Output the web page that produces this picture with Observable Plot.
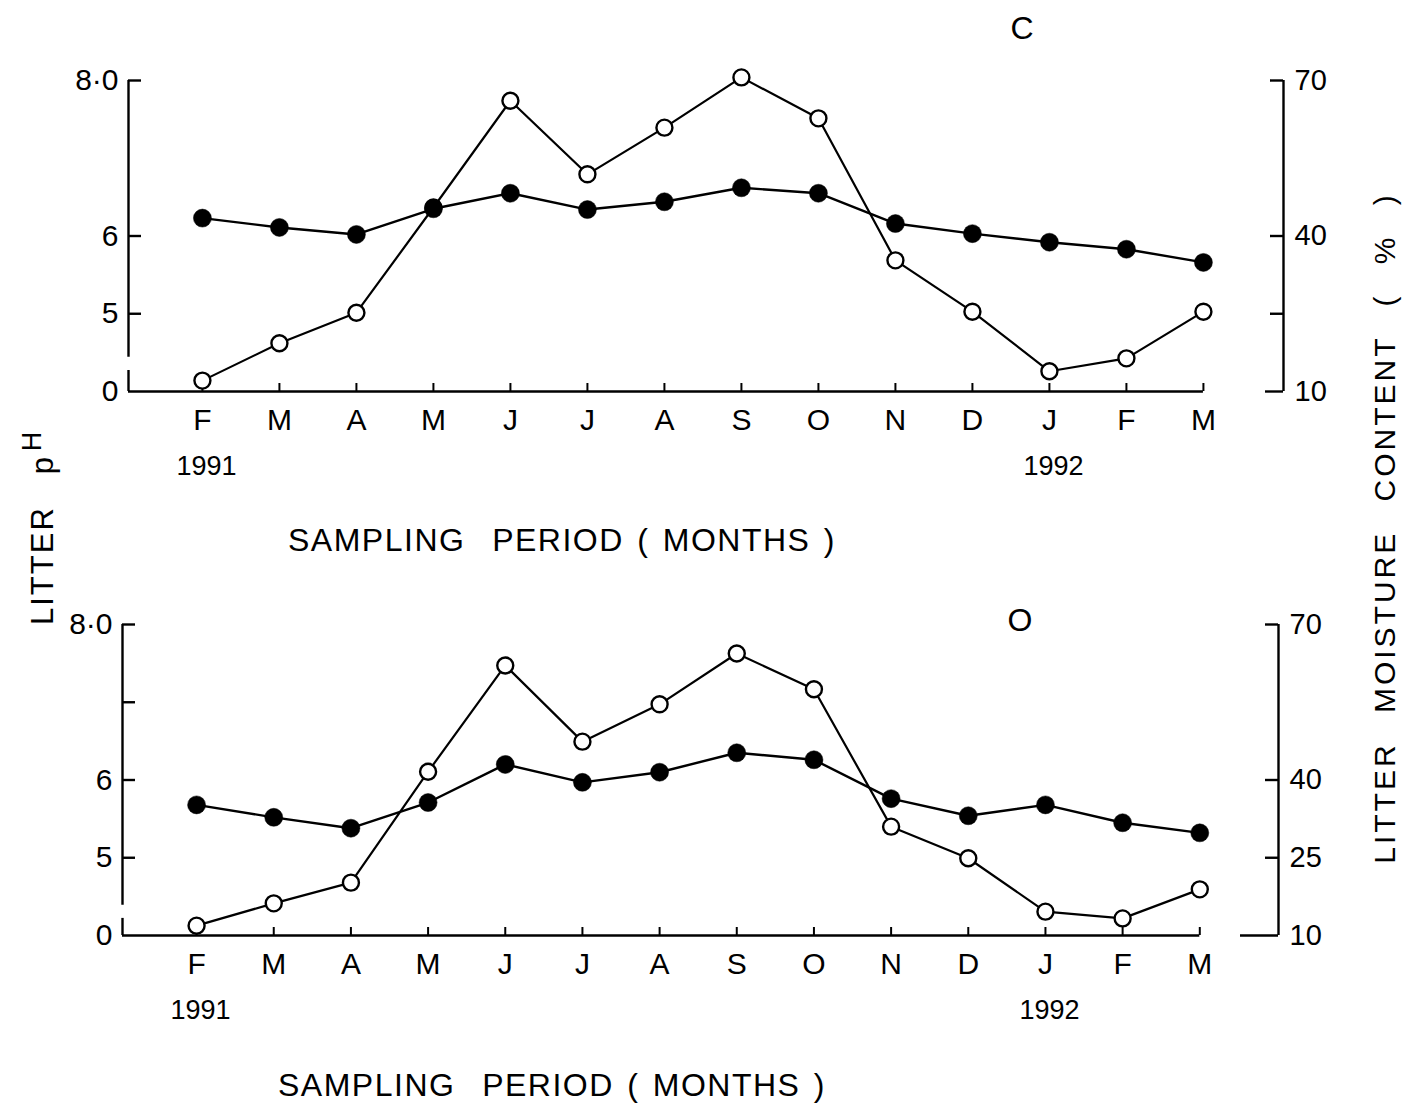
<!DOCTYPE html>
<html><head><meta charset="utf-8">
<script src="https://cdn.jsdelivr.net/npm/d3@7"></script>
<script src="https://cdn.jsdelivr.net/npm/@observablehq/plot@0.6"></script>
<style>
body{margin:0;background:#fff;}
#wrap{position:relative;width:1417px;height:1106px;background:#fff;font-family:"Liberation Sans",Arial,sans-serif;color:#000;overflow:hidden}
.abs{position:absolute;white-space:nowrap;line-height:1;}
.panel{position:absolute;left:0;}
</style></head><body><div id="wrap"></div>
<script>
// Sampling months (Feb 1991 – Mar 1992)
const months = ["F","M","A","M","J","J","A","S","O","N","D","J","F","M"];
const years = ["1991", "1992"];
const yearIndex = [0, 11];

// Panel C
const phC    = [6.23, 6.11, 6.02, 6.35, 6.55, 6.34, 6.44, 6.62, 6.55, 6.16, 6.03, 5.92, 5.83, 5.66];
const moistC = [12.1, 19.3, 25.2, 45.5, 66.1, 51.9, 60.9, 70.6, 62.7, 35.3, 25.4, 13.9, 16.4, 25.4];
// Panel O
const phO    = [5.68, 5.52, 5.38, 5.71, 6.20, 5.97, 6.10, 6.35, 6.26, 5.76, 5.54, 5.68, 5.45, 5.32];
const moistO = [11.9, 16.2, 20.2, 41.6, 62.1, 47.4, 54.6, 64.4, 57.5, 31.0, 24.9, 14.6, 13.3, 18.9];

// Axis ticks (left axis is broken: "0" sits at the pH 4 position)
const leftTickValuesC = [5, 6, 8];
const leftTickValuesO = [5, 6, 7, 8];
const leftLabelValues = [4, 5, 6, 8];
const leftLabelText   = ["0", "5", "6", "8·0"];
const rightTickValues = [25, 40, 70];
const rightLabelsC = [10, 40, 70];
const rightLabelsO = [10, 25, 40, 70];

const phDomain = [4, 8];
const moistDomain = [10, 70];
const toY = d3.scaleLinear(moistDomain, phDomain);

const W = 1417, H = 500;

function panel(o) {
  const frameW = W - o.marginLeft - o.marginRight;
  const frameH = H - o.marginTop - o.marginBottom;
  const idx = d3.range(months.length);
  const sw = 2.4;
  return Plot.plot({
    width: W, height: H,
    marginLeft: o.marginLeft, marginRight: o.marginRight,
    marginTop: o.marginTop, marginBottom: o.marginBottom,
    x: {type: "linear", domain: o.xDomain, axis: null},
    y: {domain: phDomain, axis: null},
    style: {fontFamily: '"Liberation Sans", Arial, sans-serif', background: "white", overflow: "visible", color: "black"},
    marks: [
      Plot.ruleX([o.xDomain[0]], {y1: o.breakTop, y2: phDomain[1], strokeWidth: sw}),
      Plot.ruleX([o.xDomain[0]], {y1: phDomain[0], y2: o.breakBottom, strokeWidth: sw}),
      Plot.ruleX([o.xDomain[1]], {y1: phDomain[0], y2: phDomain[1], strokeWidth: sw}),
      Plot.ruleY([phDomain[0]], {x1: o.xDomain[0], x2: months.length - 1, strokeWidth: sw}),
      Plot.tickX(idx, {x: d => d, insetTop: frameH - 8, strokeWidth: 2}),
      Plot.tickY(o.leftTicks, {y: d => d, insetRight: frameW - 13, strokeWidth: sw}),
      Plot.text(leftLabelValues, {y: d => d, text: (d, i) => leftLabelText[i], frameAnchor: "left", textAnchor: "end", dx: -10, fontSize: 30}),
      Plot.tickY(rightTickValues, {y: d => toY(d), insetLeft: frameW - 13, strokeWidth: sw}),
      Plot.tickY([moistDomain[0]], {y: d => toY(d), insetLeft: frameW - o.tenTick, strokeWidth: sw}),
      Plot.text(o.rightLabels, {y: d => toY(d), text: d => String(d), frameAnchor: "right", textAnchor: "start", dx: 11, fontSize: 29}),
      Plot.axisX(idx, {tickFormat: i => months[i], tickSize: 0, tickPadding: 17, fontSize: 30, label: null}),
      Plot.text(years, {x: (d, i) => yearIndex[i], text: d => d, frameAnchor: "bottom", dy: 83, dx: 4, fontSize: 27}),
      Plot.line(o.moist, {x: (d, i) => i, y: d => toY(d), strokeWidth: 2.2}),
      Plot.line(o.ph, {x: (d, i) => i, y: d => d, strokeWidth: 2.4}),
      Plot.dot(o.moist, {x: (d, i) => i, y: d => toY(d), r: 8, fill: "white", stroke: "black", strokeWidth: 2.4}),
      Plot.dot(o.ph, {x: (d, i) => i, y: d => d, r: 9, fill: "black", stroke: "black", strokeWidth: 0.5})
    ]
  });
}

const wrap = document.getElementById("wrap");

const topPanel = panel({
  ph: phC, moist: moistC,
  marginLeft: 128, marginRight: W - 1283, marginTop: 80, marginBottom: H - 391,
  xDomain: [-0.96, 14.04],
  leftTicks: leftTickValuesC, rightLabels: rightLabelsC,
  breakTop: 4.44, breakBottom: 4.27, tenTick: 18
});
topPanel.classList.add("panel"); topPanel.style.top = "0px";
wrap.appendChild(topPanel);

const botPanel = panel({
  ph: phO, moist: moistO,
  marginLeft: 122, marginRight: W - 1278, marginTop: 79, marginBottom: H - 390,
  xDomain: [-0.96, 14.02],
  leftTicks: leftTickValuesO, rightLabels: rightLabelsO,
  breakTop: 4.39, breakBottom: 4.22, tenTick: 38
});
botPanel.classList.add("panel"); botPanel.style.top = "545px";
wrap.appendChild(botPanel);

function addText(html, css) {
  const d = document.createElement("div");
  d.className = "abs";
  d.innerHTML = html;
  Object.assign(d.style, css);
  wrap.appendChild(d);
  return d;
}
addText("C", {left: "1022px", top: "28px", fontSize: "32px", transform: "translate(-50%,-50%)"});
addText("O", {left: "1020px", top: "620px", fontSize: "32px", transform: "translate(-50%,-50%)"});
const xTitle = "SAMPLING&nbsp; PERIOD ( MONTHS )";
addText(xTitle, {left: "288px", top: "540px", fontSize: "32px", letterSpacing: "1.5px", wordSpacing: "3px", transform: "translate(0,-50%)"});
addText(xTitle, {left: "278px", top: "1085px", fontSize: "32px", letterSpacing: "1.5px", wordSpacing: "3px", transform: "translate(0,-50%)"});
addText("LITTER&nbsp;&nbsp; p<sup style='font-size:27px;vertical-align:12px;margin-left:4px'>H</sup>",
  {left: "38px", top: "625px", fontSize: "31px", letterSpacing: "2px", transformOrigin: "0 0", transform: "rotate(-90deg) translate(0,-50%)"});
addText("LITTER MOISTURE CONTENT ( % )", {left: "1385px", top: "528px", fontSize: "30px", letterSpacing: "3px", wordSpacing: "18px", transform: "translate(-50%,-50%) rotate(-90deg)"});
</script>
</body></html>
